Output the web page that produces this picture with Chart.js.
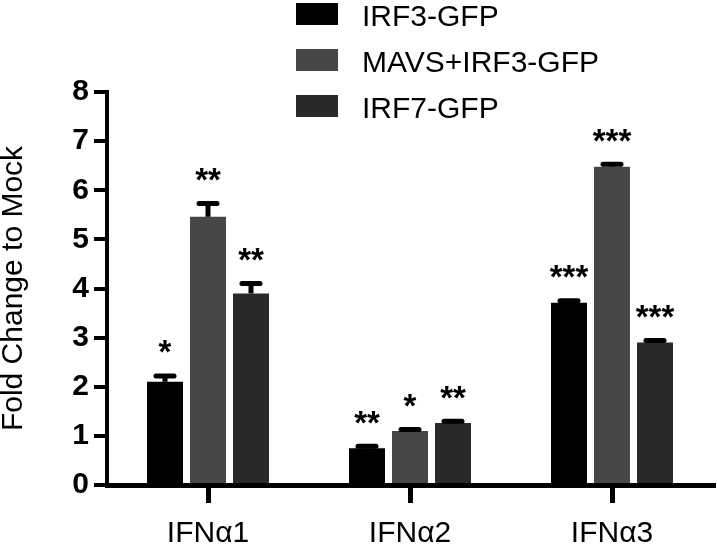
<!DOCTYPE html>
<html><head><meta charset="utf-8">
<script src="https://cdn.jsdelivr.net/npm/chart.js@4/dist/chart.umd.min.js"></script>
<style>html,body{margin:0;padding:0;background:#fff;}</style>
</head><body>
<canvas id="c" width="717" height="550"></canvas>
<script>
const categories = ['IFNα1', 'IFNα2', 'IFNα3'];
const seriesNames = ['IRF3-GFP', 'MAVS+IRF3-GFP', 'IRF7-GFP'];
const irf3 = [2.10, 0.75, 3.71];
const mavsIrf3 = [5.46, 1.10, 6.48];
const irf7 = [3.90, 1.26, 2.90];
const irf3Err = [0.12, 0.04, 0.04];
const mavsIrf3Err = [0.27, 0.03, 0.05];
const irf7Err = [0.20, 0.04, 0.04];
const irf3Sig = ['*', '**', '***'];
const mavsIrf3Sig = ['**', '*', '***'];
const irf7Sig = ['**', '**', '***'];
const yTicks = [0, 1, 2, 3, 4, 5, 6, 7, 8];
const yTitle = 'Fold Change to Mock';

const FONT = '"Liberation Sans", Arial, Helvetica, sans-serif';
const errs = [irf3Err, mavsIrf3Err, irf7Err];
const sigs = [irf3Sig, mavsIrf3Sig, irf7Sig];

const overlay = {
  id: 'overlay',
  afterDatasetsDraw(chart) {
    const ctx = chart.ctx;
    const ys = chart.scales.y;
    chart.data.datasets.forEach((ds, di) => {
      const meta = chart.getDatasetMeta(di);
      meta.data.forEach((bar, i) => {
        const v = ds.data[i];
        const e = errs[di][i];
        const top = ys.getPixelForValue(v + e);
        const base = ys.getPixelForValue(v);
        ctx.save();
        ctx.fillStyle = '#000';
        ctx.strokeStyle = '#000';
        ctx.fillRect(bar.x - 2.5, top, 5, base - top);
        ctx.lineWidth = 5;
        ctx.lineCap = 'round';
        ctx.beginPath();
        ctx.moveTo(bar.x - 9, top);
        ctx.lineTo(bar.x + 9, top);
        ctx.stroke();
        const s = sigs[di][i];
        ctx.font = 'bold 33px ' + FONT;
        ctx.textAlign = 'center';
        ctx.textBaseline = 'alphabetic';
        const m = ctx.measureText(s);
        const bottom = top - 2.5 - 20;
        ctx.fillText(s, bar.x, bottom - m.actualBoundingBoxDescent);
        ctx.restore();
      });
    });
    // legend
    ctx.save();
    chart.data.datasets.forEach((ds, di) => {
      const cy = 14 + 46 * di;
      ctx.fillStyle = ds.backgroundColor;
      ctx.fillRect(296, cy - 11, 42, 22);
      ctx.fillStyle = '#000';
      ctx.font = '30px ' + FONT;
      ctx.textAlign = 'left';
      ctx.textBaseline = 'alphabetic';
      ctx.fillText(ds.label, 362, cy + 11.5);
    });
    ctx.restore();
  }
};

new Chart(document.getElementById('c'), {
  type: 'bar',
  data: {
    labels: categories,
    datasets: [
      { label: seriesNames[0], data: irf3, backgroundColor: '#000000' },
      { label: seriesNames[1], data: mavsIrf3, backgroundColor: '#474747' },
      { label: seriesNames[2], data: irf7, backgroundColor: '#292929' }
    ]
  },
  options: {
    responsive: false,
    animation: false,
    devicePixelRatio: 1,
    categoryPercentage: 0.6386,
    barPercentage: 0.837,
    layout: { padding: { top: 92, right: 4, bottom: 0, left: 0 } },
    plugins: { legend: { display: false }, tooltip: { enabled: false } },
    scales: {
      x: {
        offset: true,
        grid: { display: true, drawOnChartArea: false, drawTicks: true, tickLength: 18, lineWidth: 5, color: '#000', offset: false },
        border: { display: true, width: 5, color: '#000' },
        ticks: { font: { family: FONT, size: 30 }, color: '#000', padding: 13, maxRotation: 0 },
        afterFit(s) { s.height = 65; }
      },
      y: {
        min: 0, max: 8,
        afterBuildTicks(s) { s.ticks = yTicks.map(v => ({ value: v })); },
        ticks: { font: { family: FONT, size: 30, weight: 'bold' }, color: '#000', padding: 5 },
        grid: { drawOnChartArea: false, drawTicks: true, tickLength: 13, lineWidth: 4, color: '#000' },
        border: { display: true, width: 4, color: '#000' },
        title: { display: true, text: yTitle, color: '#000', font: { family: FONT, size: 30, lineHeight: 1 }, padding: { top: -1, bottom: 0 } },
        afterFit(s) { s.width = 107; }
      }
    }
  },
  plugins: [overlay]
});
</script>
</body></html>
